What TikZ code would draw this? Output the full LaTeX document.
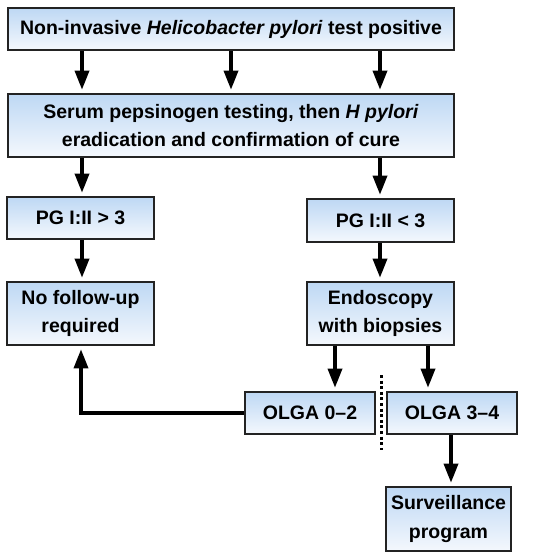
\documentclass[tikz,border=0pt]{standalone}
\usepackage{fontspec}
\setmainfont{Liberation Sans}
\usetikzlibrary{arrows.meta}
\definecolor{boxtop}{RGB}{190,216,244}
\definecolor{boxbot}{RGB}{244,248,253}
\definecolor{edge}{RGB}{35,35,35}
\tikzset{
  fbox/.style={draw=edge, line width=1.6pt, top color=boxtop, bottom color=boxbot,
    inner sep=0pt, align=center, font=\fontsize{19.5}{28.5}\selectfont\bfseries},
  arr/.style={line width=3.4pt, -{Triangle[length=19pt,width=14pt]}, shorten >=3.5pt},
}
\begin{document}
\begin{tikzpicture}[x=1pt,y=-1pt]
\useasboundingbox (0,0) rectangle (558,557);
\node[fbox, minimum width=446pt, minimum height=42pt] (top) at (231,29)
  {Non-invasive \textit{Helicobacter pylori} test positive};
\node[fbox, minimum width=446pt, minimum height=63pt] (sero) at (231,125.5)
  {Serum pepsinogen testing, then \textit{H pylori}\\eradication and confirmation of cure};
\node[fbox, minimum width=147pt, minimum height=42pt] (pghi) at (80.5,218) {PG I:II > 3};
\node[fbox, minimum width=147pt, minimum height=43pt] (pglo) at (380.5,220.5) {PG I:II < 3};
\node[fbox, minimum width=147pt, minimum height=63pt] (nofu) at (80.5,313.5) {No follow-up\\required};
\node[fbox, minimum width=147pt, minimum height=63pt] (endo) at (380.5,313.5) {Endoscopy\\with biopsies};
\node[fbox, minimum width=130pt, minimum height=42pt] (olgalo) at (310,413) {OLGA 0--2};
\node[fbox, minimum width=130pt, minimum height=42pt] (olgahi) at (452,413) {OLGA 3--4};
\node[fbox, minimum width=125pt, minimum height=64pt] (surv) at (448.5,519) {Surveillance\\program};

\draw[arr] (top.south -| 82,0) -- (sero.north -| 82,0);
\draw[arr] (top.south -| 231,0) -- (sero.north -| 231,0);
\draw[arr] (top.south -| 380,0) -- (sero.north -| 380,0);
\draw[arr] (sero.south -| 82,0) -- (pghi.north -| 82,0);
\draw[arr] (sero.south -| 380,0) -- (pglo.north -| 380,0);
\draw[arr] (pghi.south -| 82,0) -- (nofu.north -| 82,0);
\draw[arr] (pglo.south -| 380,0) -- (endo.north -| 380,0);
\draw[arr] (endo.south -| 335,0) -- (olgalo.north -| 335,0);
\draw[arr] (endo.south -| 428,0) -- (olgahi.north -| 428,0);
\draw[arr] (olgahi.south -| 451,0) -- (surv.north -| 451,0);
\draw[arr, line join=miter] (olgalo.west) -| (nofu.south -| 81,0);
\draw[line width=3pt, dash pattern=on 3pt off 2.6pt] (381,375) -- (381,450);
\end{tikzpicture}
\end{document}
